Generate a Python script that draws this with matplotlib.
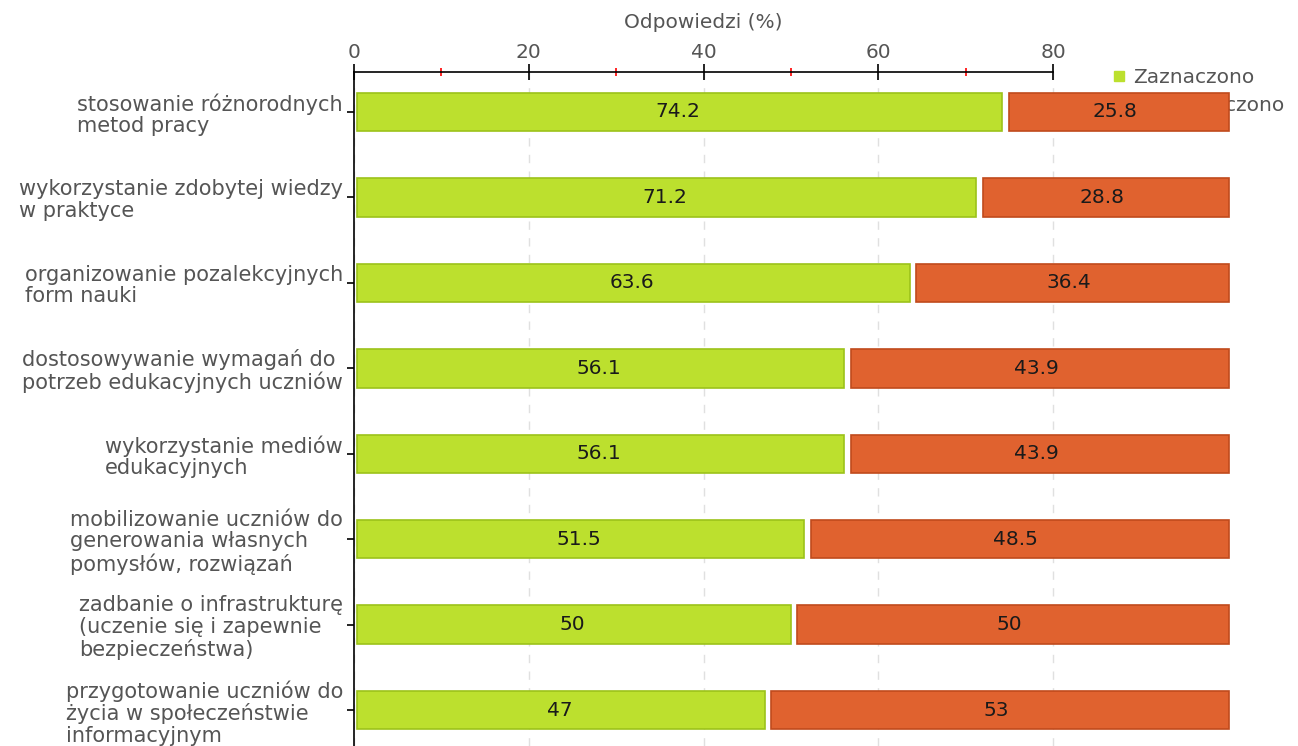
import numpy as np
import matplotlib
matplotlib.use("Agg")
from matplotlib import pyplot as plt
from matplotlib.lines import Line2D

categories = [
    "stosowanie różnorodnych\nmetod pracy",
    "wykorzystanie zdobytej wiedzy\nw praktyce",
    "organizowanie pozalekcyjnych\nform nauki",
    "dostosowywanie wymagań do\npotrzeb edukacyjnych uczniów",
    "wykorzystanie mediów\nedukacyjnych",
    "mobilizowanie uczniów do\ngenerowania własnych\npomysłów, rozwiązań",
    "zadbanie o infrastrukturę\n(uczenie się i zapewnie\nbezpieczeństwa)",
    "przygotowanie uczniów do\nżycia w społeczeństwie\ninformacyjnym",
]
zaznaczono = [74.2, 71.2, 63.6, 56.1, 56.1, 51.5, 50, 47]
niezaznaczono = [25.8, 28.8, 36.4, 43.9, 43.9, 48.5, 50, 53]
series_names = ["Zaznaczono", "Niezaznaczono"]

green = "#bce02e"
green_edge = "#9cc21a"
red = "#e0622f"
red_edge = "#c04a1c"
gray = "#555555"
fs = 14.5

plt.rcParams["font.family"] = "DejaVu Sans"

fig = plt.figure(figsize=(12.98, 7.46), dpi=100)
ax = fig.add_axes([354 / 1298, 0, 1 - 354 / 1298, 674 / 746])
ax.patch.set_visible(False)

y = np.arange(len(categories))
h = 0.45
gap = 0.38

ax.barh(y, np.array(zaznaczono) - gap, h, left=gap, color=green,
        edgecolor=green_edge, linewidth=1.2, zorder=3)
ax.barh(y, np.array(niezaznaczono) - 0.65, h, left=np.array(zaznaczono) + 0.75,
        color=red, edgecolor=red_edge, linewidth=1.2, zorder=3)

for i in range(len(categories)):
    ax.text(zaznaczono[i] / 2, y[i], f"{zaznaczono[i]:g}", ha="center",
            va="center", fontsize=fs, color="#1a1a1a", zorder=4)
    ax.text(zaznaczono[i] + niezaznaczono[i] / 2, y[i], f"{niezaznaczono[i]:g}",
            ha="center", va="center", fontsize=fs, color="#1a1a1a", zorder=4)

xmax = (1298 - 354) / 8.7375
ax.set_xlim(0, xmax)
ax.set_ylim(7.42, -0.468)

ax.xaxis.tick_top()
ax.set_xticks([0, 20, 40, 60, 80])
ax.set_xticks([10, 30, 50, 70], minor=True)
ax.tick_params(axis="x", which="major", direction="inout", length=12,
               width=1.2, color="black", labelsize=fs, labelcolor=gray, pad=1)
ax.tick_params(axis="x", which="minor", direction="inout", length=6,
               width=1.2, color="red")
ax.xaxis.grid(True, which="major", linestyle=(0, (6, 6)), color="#e0e0e0",
              linewidth=1, zorder=0)
ax.set_axisbelow(True)

ax.set_yticks(y)
ax.set_yticklabels(categories, multialignment="left", linespacing=1.1)
ax.tick_params(axis="y", direction="out", length=5, width=1.2,
               labelsize=15, labelcolor=gray, pad=3)

for s in ["right", "bottom"]:
    ax.spines[s].set_visible(False)
ax.spines["top"].set_bounds(0, 80)
ax.spines["top"].set_linewidth(1.2)
ax.spines["left"].set_linewidth(1.2)

ax.text(40, 1 + 50 / 674, "Odpowiedzi (%)", transform=ax.get_xaxis_transform(),
        ha="center", va="center", fontsize=fs, color=gray)

# legend sits behind the axes, so the red bar covers part of it
handles = [
    Line2D([], [], marker="s", linestyle="none", markersize=7.5,
           markerfacecolor=green, markeredgecolor=green),
    Line2D([], [], marker="s", linestyle="none", markersize=7.5,
           markerfacecolor=red, markeredgecolor=red),
]
leg = fig.legend(handles, series_names, loc="upper left",
                 bbox_to_anchor=(1111 / 1298, 1 - 68 / 746),
                 frameon=False, fontsize=fs, handletextpad=0.3,
                 labelspacing=0.45, borderaxespad=0, borderpad=0,
                 handlelength=0.8)
for t in leg.get_texts():
    t.set_color(gray)
leg.set_zorder(-1)

fig.savefig("out.png", dpi=100)
